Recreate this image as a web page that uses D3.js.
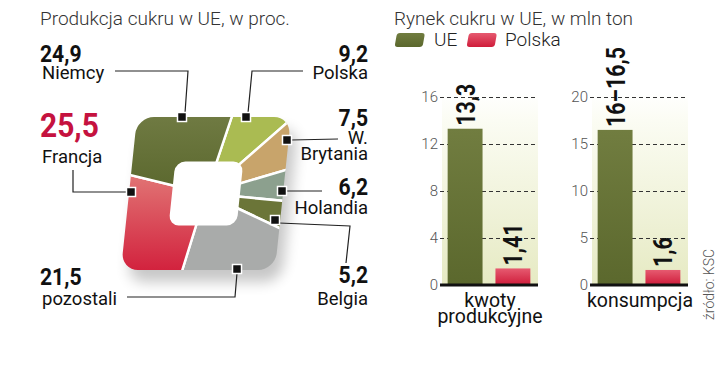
<!DOCTYPE html>
<html>
<head>
<meta charset="utf-8">
<script src="https://cdnjs.cloudflare.com/ajax/libs/d3/7.8.5/d3.min.js"></script>
<style>
  body { margin: 0; background: #fff; }
  svg { display: block; font-family: Roboto, "DejaVu Sans", sans-serif; }
</style>
</head>
<body>
<svg id="chart" width="720" height="392"></svg>
<script>
// produkcja cukru w UE, w proc.
const countries = ["Polska", "W. Brytania", "Holandia", "Belgia", "pozostali", "Francja", "Niemcy"];
const shares = [9.2, 7.5, 6.2, 5.2, 21.5, 25.5, 24.9];
const shareLabels = ["9,2", "7,5", "6,2", "5,2", "21,5", "25,5", "24,9"];

// rynek cukru w UE, w mln ton
const markets = [["kwoty", "produkcyjne"], ["konsumpcja"]];
const ueValues = [13.3, 16.5];
const ueLabels = ["13,3", "16–16,5"];
const plValues = [1.41, 1.6];
const plLabels = ["1,41", "1,6"];
const axisMax = [16, 20];
const axisTicks = [[0, 4, 8, 12, 16], [0, 5, 10, 15, 20]];

const sliceColors = ["#aabb52", "#c8a46b", "#8ca08e", "#6b7538", "#a9abaa", "url(#gFr)", "url(#gDe)"];

// where each label / leader sits
const notes = [
  { x: 368, anchor: "end", numY: 62, lines: [["Polska", 79]], mark: [246, 117], lead: [[303, 71], [252, 71], [248, 113]] },
  { x: 368, anchor: "end", numY: 126, lines: [["W.", 144], ["Brytania", 160]], mark: [287, 140], lead: [[338, 139], [291, 140]] },
  { x: 368, anchor: "end", numY: 195, lines: [["Holandia", 214]], mark: [282, 191], lead: [[322, 191], [286, 191]] },
  { x: 368, anchor: "end", numY: 283, lines: [["Belgia", 305]], mark: [275, 220], lead: [[279, 223], [350, 226], [346, 263]] },
  { x: 40, anchor: "start", numY: 285, lines: [["pozostali", 305]], mark: [237, 269], lead: [[237, 273], [235, 297], [127, 297]] },
  { x: 40, anchor: "start", numY: 137, big: true, lines: [["Francja", 163]], mark: [131, 192], lead: [[73, 170], [73, 192], [127, 192]] },
  { x: 40, anchor: "start", numY: 62, lines: [["Niemcy", 79]], mark: [182, 117], lead: [[115, 71], [188, 71], [185, 113]] }
];

const svg = d3.select("#chart");
const defs = svg.append("defs");

function grad(id, stops, attrs) {
  const g = defs.append("linearGradient").attr("id", id)
    .attr("x1", 0).attr("y1", 0).attr("x2", 0).attr("y2", 1);
  if (attrs) Object.entries(attrs).forEach(([k, v]) => g.attr(k, v));
  stops.forEach(s => g.append("stop").attr("offset", s[0]).attr("stop-color", s[1]));
}
grad("gOlive", [[0, "#717d40"], [1, "#5b682d"]]);
grad("gRed", [[0, "#e65a70"], [1, "#cf1c3a"]]);
grad("gFr", [[0, "#e27a78"], [1, "#d2213d"]], { gradientUnits: "userSpaceOnUse", x1: 0, y1: -25, x2: 0, y2: 78 });
grad("gDe", [[0, "#6f7a42"], [1, "#5a672d"]], { gradientUnits: "userSpaceOnUse", x1: 0, y1: -76, x2: 0, y2: 0 });
grad("gPanel", [[0, "#ffffff"], [0.15, "#fbfcf3"], [1, "#e6eac3"]], { gradientUnits: "userSpaceOnUse", x1: 0, y1: 92, x2: 0, y2: 285 });

defs.append("filter").attr("id", "blur").attr("x", "-30%").attr("y", "-30%").attr("width", "160%").attr("height", "160%")
  .append("feGaussianBlur").attr("stdDeviation", 7);

// ---------- left: square "pie" ----------
svg.append("text").attr("x", 40).attr("y", 25)
  .attr("font-size", 19).attr("font-weight", 300).attr("fill", "#333")
  .text("Produkcja cukru w UE, w proc.");

const W = 154, H = 153;
const pieG = svg.append("g").attr("transform", "translate(206,193.5) skewX(-6)");

defs.append("clipPath").attr("id", "sq").append("rect")
  .attr("x", -W / 2).attr("y", -H / 2).attr("width", W).attr("height", H).attr("rx", 17);

pieG.append("rect")
  .attr("x", -W / 2 + 8).attr("y", -H / 2 + 12).attr("width", W).attr("height", H).attr("rx", 17)
  .attr("fill", "#000").attr("opacity", 0.22).attr("filter", "url(#blur)");

const a0 = 13 * Math.PI / 180;
const pie = d3.pie().sort(null).startAngle(a0).endAngle(a0 + 2 * Math.PI);
const arc = d3.arc().innerRadius(0).outerRadius(220);

const slices = pieG.append("g").attr("clip-path", "url(#sq)");
slices.selectAll("path").data(pie(shares)).join("path")
  .attr("d", arc)
  .attr("fill", (d, i) => sliceColors[i])
  .attr("stroke", "#fff").attr("stroke-width", 2.5);

pieG.append("rect")
  .attr("x", -33).attr("y", -31).attr("width", 66).attr("height", 62).attr("rx", 9)
  .attr("fill", "#fff").attr("stroke", "#fff").attr("stroke-width", 2);

const ann = svg.append("g");
notes.forEach((n, i) => {
  ann.append("polyline")
    .attr("points", n.lead.map(p => p.join(",")).join(" "))
    .attr("fill", "none").attr("stroke", "#222").attr("stroke-width", 1.2);
  ann.append("rect")
    .attr("x", n.mark[0] - 4.5).attr("y", n.mark[1] - 4.5).attr("width", 9).attr("height", 9)
    .attr("fill", "#111").attr("stroke", "#fff").attr("stroke-width", 1.5);
  const fs = n.big ? 34 : 24;
  ann.append("text")
    .attr("transform", `translate(${n.x},${n.numY}) scale(0.88,1)`)
    .attr("text-anchor", n.anchor)
    .attr("font-size", fs).attr("font-weight", 700)
    .attr("fill", n.big ? "#c5123f" : "#111")
    .text(shareLabels[i]);
  n.lines.forEach(l => {
    ann.append("text")
      .attr("x", n.anchor === "start" ? n.x + 2 : n.x).attr("y", l[1])
      .attr("text-anchor", n.anchor)
      .attr("font-size", 18.5).attr("fill", "#111")
      .text(l[0]);
  });
});

// ---------- right: bars ----------
svg.append("text").attr("x", 394).attr("y", 25)
  .attr("font-size", 19).attr("font-weight", 300).attr("fill", "#333")
  .text("Rynek cukru w UE, w mln ton");

const legend = svg.append("g").attr("transform", "translate(397,33)");
[["UE", "url(#gOlive)", 0, 37], ["Polska", "url(#gRed)", 72, 108]].forEach(l => {
  legend.append("rect").attr("x", l[2]).attr("y", 0).attr("width", 28).attr("height", 14).attr("rx", 3)
    .attr("transform", "skewX(-10)").attr("fill", l[1]);
  legend.append("text").attr("x", l[3]).attr("y", 13)
    .attr("font-size", 19).attr("font-weight", 300).attr("fill", "#222").text(l[0]);
});

const panels = [[440, 538], [590, 688]];
markets.forEach((m, i) => {
  const [x0, x1] = panels[i];
  const y = d3.scaleLinear().domain([0, axisMax[i]]).range([285, 97]);
  const x = d3.scaleBand().domain(["UE", "Polska"]).range([x0, x1]).paddingInner(0.27).paddingOuter(0.16);
  const g = svg.append("g");

  g.append("rect").attr("x", x0 + 2).attr("y", 92).attr("width", x1 - x0 - 2).attr("height", 193)
    .attr("fill", "url(#gPanel)");

  const ax = g.append("g").attr("transform", `translate(${x0},0)`)
    .call(d3.axisLeft(y).tickValues(axisTicks[i]).tickSize(-(x1 - x0)).tickPadding(2));
  ax.select(".domain").remove();
  ax.selectAll(".tick line").attr("stroke", "#333").attr("stroke-dasharray", "4,3");
  ax.selectAll(".tick text").attr("font-family", "Roboto, sans-serif").attr("font-size", 15)
    .attr("font-weight", 300).attr("fill", "#555");
  ax.selectAll(".tick").filter(d => d === 0).select("line").attr("stroke", "none");

  const bars = [["UE", ueValues[i], ueLabels[i], "url(#gOlive)"], ["Polska", plValues[i], plLabels[i], "url(#gRed)"]];
  bars.forEach(b => {
    g.append("rect").attr("x", x(b[0])).attr("width", x.bandwidth())
      .attr("y", y(b[1])).attr("height", y(0) - y(b[1])).attr("fill", b[3]);
    g.append("text")
      .attr("transform", `translate(${x(b[0]) + x.bandwidth() / 2 + 9.5},${y(b[1]) - 3}) rotate(-90) scale(0.82,1)`)
      .attr("font-size", 26).attr("font-weight", 700).attr("fill", "#111")
      .text(b[2]);
  });

  g.append("line").attr("x1", x0).attr("x2", x1).attr("y1", y(0)).attr("y2", y(0))
    .attr("stroke", "#111").attr("stroke-width", 3);

  m.forEach((t, j) => {
    g.append("text").attr("x", (x0 + x1) / 2 + 1).attr("y", 307 + j * 16)
      .attr("text-anchor", "middle").attr("font-size", 19.5).attr("fill", "#111").text(t);
  });
});

svg.append("text").attr("transform", "translate(714,320) rotate(-90)")
  .attr("font-size", 14).attr("font-weight", 300).attr("fill", "#555")
  .text("źródło: KSC");
</script>
</body>
</html>
